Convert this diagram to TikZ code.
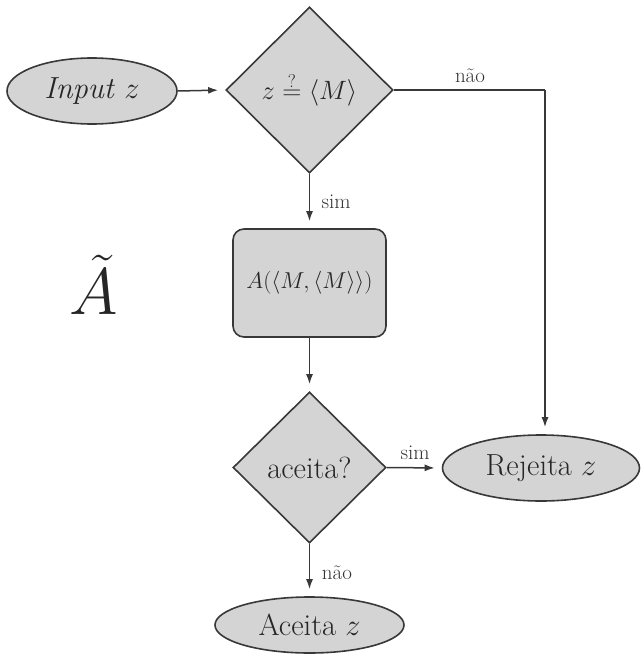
\RequirePackage{fix-cm}
\documentclass[tikz,border=0pt]{standalone}
\usepackage{fontspec}
\usetikzlibrary{shapes.geometric,arrows.meta}
\definecolor{shapefill}{gray}{0.83}
\definecolor{linecol}{gray}{0.22}
\tikzset{
  shapebase/.style={draw=linecol, fill=shapefill, line width=1.6pt, inner sep=0pt, text=black!85},
  ovalnode/.style={shapebase, ellipse},
  decnode/.style={shapebase, diamond, aspect=1},
  procnode/.style={shapebase, rectangle, rounded corners=11pt},
  arr/.style={draw=linecol, line width=1.5pt, -{Latex[length=10pt,width=7pt]}, shorten >=7pt},
  plainline/.style={draw=linecol, line width=1.5pt},
  lbl/.style={font=\fontsize{21}{24}\selectfont, text=black!80, inner sep=0pt},
  bigtxt/.style={font=\fontsize{30.5}{36}\selectfont}
}
\begin{document}
\begin{tikzpicture}[x=1pt,y=-1pt]
\useasboundingbox (0,0) rectangle (641,656);
\node[ovalnode, bigtxt, minimum width=170pt, minimum height=66pt] (inp) at (92,91) {\textit{Input} $z$};
\node[decnode, minimum width=167pt, minimum height=166pt, font=\fontsize{26.5}{30}\selectfont] (d1) at (309.5,90) {$z \stackrel{?}{=} \langle M\rangle$};
\node[procnode, minimum width=153pt, minimum height=108pt, font=\fontsize{23}{27}\selectfont] (box) at (309.5,283) {$A(\langle M, \langle M\rangle\rangle)$};
\node[decnode, bigtxt, minimum width=153pt, minimum height=151pt] (d2) at (309.5,467.5) {aceita?};
\node[ovalnode, bigtxt, minimum width=197pt, minimum height=66pt] (rej) at (541,468) {Rejeita $z$};
\node[ovalnode, bigtxt, minimum width=189pt, minimum height=56pt] (acc) at (309.5,625) {Aceita $z$};
\node[font=\fontsize{66}{70}\selectfont, text=black!85] (atil) at (94,285) {$\tilde{A}$};
\coordinate (corner) at (545,90);
\draw[arr] (inp.east) -- (d1.west);
\draw[arr] (d1.south) -- (box.north);
\draw[arr] (box.south) -- (d2.north);
\draw[arr] (d2.east) -- (rej.west);
\draw[arr] (d2.south) -- (acc.north);
\draw[plainline] (d1.east) -- (corner);
\draw[arr] (corner) -- (corner |- rej.north);
\node[lbl] (l1) at (470,76) {não};
\node[lbl] (l2) at (336,202) {sim};
\node[lbl] (l3) at (415,453) {sim};
\node[lbl] (l4) at (337,573) {não};
\end{tikzpicture}
\end{document}
